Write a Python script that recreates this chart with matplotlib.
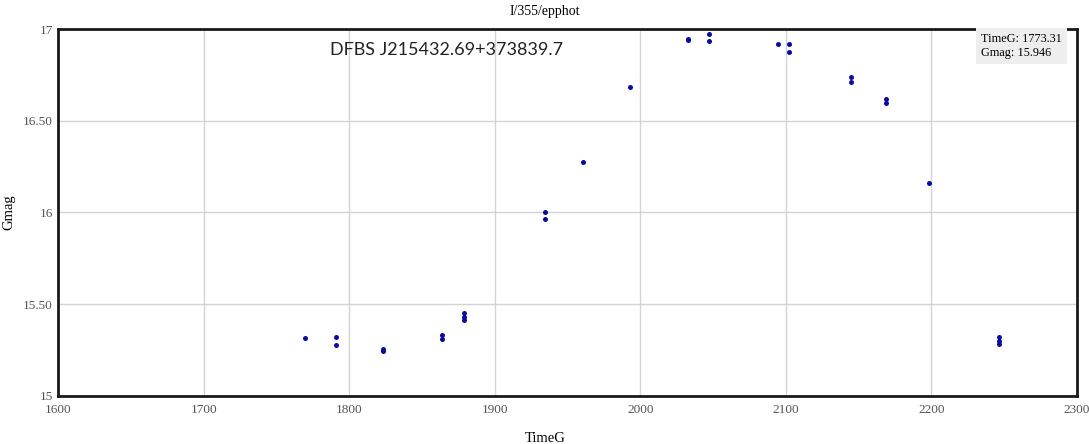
import matplotlib
matplotlib.use("Agg")
import matplotlib.pyplot as plt
import numpy as np

# %%
# Data
time_g = [
    1769.6, 1790.6, 1790.6, 1823.0, 1823.0, 1863.7, 1863.7,
    1879.0, 1879.0, 1879.0, 1934.5, 1934.5, 1960.8, 1992.9,
    2033.0, 2033.0, 2047.2, 2047.2, 2094.4, 2102.4, 2102.4,
    2144.8, 2144.8, 2168.9, 2168.9, 2198.6, 2246.7, 2246.7, 2246.7,
]
gmag = [
    15.313, 15.318, 15.276, 15.252, 15.245, 15.330, 15.310,
    15.449, 15.430, 15.413, 16.003, 15.964, 16.274, 16.686,
    16.950, 16.940, 16.975, 16.935, 16.919, 16.919, 16.879,
    16.739, 16.713, 16.622, 16.600, 16.160, 15.318, 15.300, 15.282,
]

x_ticks = [1600, 1700, 1800, 1900, 2000, 2100, 2200, 2300]
y_ticks = [15, 15.5, 16, 16.5, 17]
y_tick_labels = ["15", "15.50", "16", "16.50", "17"]

title = "I/355/epphot"
star_name = "DFBS J215432.69+373839.7"
hover_text = "TimeG: 1773.31\nGmag: 15.946"

# %%
# Plot
plt.rcParams["font.family"] = ["Liberation Serif", "DejaVu Serif"]

fig = plt.figure(figsize=(10.89, 4.44), dpi=100)
ax = fig.add_axes([0.0535, 0.1092, 0.9355, 0.8244])

ax.plot(time_g, gmag, "o", color="#0a0a9c", ms=3.6, mew=0, zorder=3)

ax.set_xlim(1600, 2300)
ax.set_ylim(15, 17)
ax.set_xticks(x_ticks)
ax.set_yticks(y_ticks)
ax.set_yticklabels(y_tick_labels)
ax.grid(True, color="#d4d4d4", lw=1.0)
ax.set_axisbelow(True)

ax.tick_params(axis="both", length=0, labelsize=9.5, labelcolor="#555555")
ax.tick_params(axis="x", pad=6)
ax.tick_params(axis="y", pad=4)
for spine in ax.spines.values():
    spine.set_linewidth(2.0)
    spine.set_color("#1a1a1a")

ax.set_xlabel("TimeG", fontsize=10.5)
ax.set_ylabel("Gmag", fontsize=10.5)
ax.xaxis.set_label_coords(0.478, -0.10)
ax.yaxis.set_label_coords(-0.042, 0.5)
fig.text(0.5, 0.975, title, ha="center", va="center", fontsize=10)

ax.text(0.267, 0.944, star_name, transform=ax.transAxes, ha="left",
        va="center", fontsize=13, family=["Lato", "DejaVu Sans"],
        color="#222222")
ax.text(0.906, 0.99, hover_text, transform=ax.transAxes, ha="left",
        va="top", fontsize=8.8, linespacing=1.25,
        bbox=dict(boxstyle="square,pad=0.4", fc="#eeeeee", ec="none"))

fig.savefig("out.png", dpi=100)
